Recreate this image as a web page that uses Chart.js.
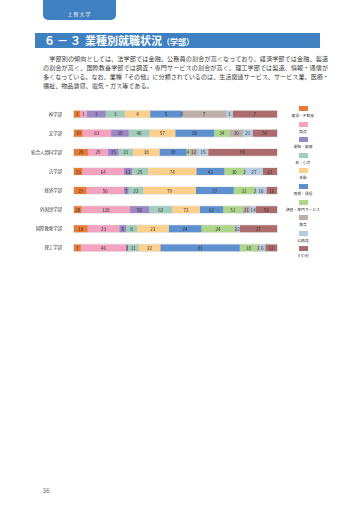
<!DOCTYPE html>
<html>
<head>
<meta charset="utf-8">
<script src="https://cdn.jsdelivr.net/npm/chart.js@4"></script>
<style>
    body { margin: 0; width: 360px; height: 509px; background: #fff; position: relative; overflow: hidden;
           font-family: "Noto Sans CJK JP", sans-serif; }
    #tab { position: absolute; left: 43px; top: -6px; width: 73px; height: 26px; background: #3f80c0;
           border-radius: 5px; color: #fff; font-size: 5px; text-align: center; line-height: 5px; }
    #tab span { position: absolute; left: 0; right: 0; top: 17px; letter-spacing: 1px; }
    #title { position: absolute; left: 35px; top: 33px; width: 285px; height: 15px; background: #3f80c0;
             color: #fff; font-weight: bold; font-size: 11px; line-height: 15px; white-space: nowrap; }
    #title .num { position: absolute; left: 9px; letter-spacing: 2px; }
    #title .main { position: absolute; left: 50px; }
    #title .sub { font-size: 8px; }
    #para { position: absolute; left: 43px; top: 54px; width: 285px; font-size: 6.1px; line-height: 9px; color: #3a3a3a; }
    #para div { text-align: justify; text-align-last: justify; white-space: nowrap; }
    #para div.last { text-align-last: left; }
    #chartBox { position: absolute; left: 0; top: 98px; }
    #legend { position: absolute; left: 282px; top: 106px; width: 42px; }
    .item { height: 15.6px; text-align: center; }
    .sw { width: 9px; height: 5px; margin: 0 auto; }
    .lb { font-size: 3.8px; line-height: 5px; color: #444; margin-top: 2px; white-space: nowrap; }
    #page { position: absolute; left: 43px; top: 486px; font-size: 6px; color: #666; }
</style>
</head>
<body>
<div id="tab"><span>上智大学</span></div>
<div id="title"><span class="num">６－３</span><span class="main">業種別就職状況<span class="sub">（学部）</span></span></div>
<div id="para">
    <div>　学部別の傾向としては、法学部では金融、公務員の割合が高くなっており、経済学部では金融、製造</div>
    <div>の割合が高く、国際教養学部では調査・専門サービスの割合が高く、理工学部では製造、情報・通信が</div>
    <div>多くなっている。なお、業種「その他」に分類されているのは、生活関連サービス、サービス業、医療・</div>
    <div class="last">福祉、物品賃貸、電気・ガス等である。</div>
</div>
<div id="chartBox"><canvas id="myChart" width="290" height="166"></canvas></div>
<div id="legend"></div>
<div id="page">56</div>

<script>
// ---- data ----
var faculties = ['神学部', '文学部', '総合人間科学部', '法学部', '経済学部', '外国語学部', '国際教養学部', '理工学部'];
var industries = ['建設・不動産', '製造', '運輸・郵便', '卸・小売', '金融', '情報・通信', '調査・専門サービス', '教育', '公務員', 'その他'];
var colors = ['#e97c35', '#f3a3bf', '#9a87c5', '#a2cdbd', '#fdd08b', '#5e8fcf', '#afd58b', '#bcaea9', '#b3cde0', '#ad6c6c'];

// one array per industry, in faculty order
var kensetsu = [1, 19, 20, 13, 19, 20, 10, 7];
var seizo    = [1, 63, 29, 64, 56, 128, 23, 46];
var unyu     = [3, 39, 15, 12, 7, 50, 5, 2];
var oroshi   = [3, 46, 21, 25, 22, 62, 8, 11];
var kinyu    = [4, 57, 38, 74, 79, 72, 23, 22];
var joho     = [5, 86, 39, 43, 57, 62, 24, 81];
var chosa    = [0, 34, 4, 30, 31, 51, 24, 18];
var kyoiku   = [7, 30, 12, 2, 2, 21, 2, 2];
var komuin   = [1, 21, 15, 27, 16, 14, 2, 6];
var sonota   = [7, 54, 99, 22, 16, 56, 27, 12];

var counts = [kensetsu, seizo, unyu, oroshi, kinyu, joho, chosa, kyoiku, komuin, sonota];

// ---- build ----
var totals = faculties.map(function (f, i) {
    var s = 0;
    for (let k = 0; k < counts.length; k++) s += counts[k][i];
    return s;
});

var datasets = [];
for (let k = 0; k < counts.length; k++) {
    datasets.push({
        label: industries[k],
        data: counts[k].map(function (v, i) { return v / totals[i] * 100; }),
        raw: counts[k],
        backgroundColor: colors[k],
        borderWidth: 0,
        barPercentage: 0.9,
        categoryPercentage: 0.4
    });
}

// numbers written in the middle of each segment
var valueLabels = {
    id: 'valueLabels',
    afterDatasetsDraw: function (chart) {
        var ctx = chart.ctx;
        ctx.save();
        ctx.font = '4.6px "Noto Sans CJK JP", sans-serif';
        ctx.fillStyle = '#333';
        ctx.textAlign = 'center';
        ctx.textBaseline = 'middle';
        chart.data.datasets.forEach(function (ds, k) {
            chart.getDatasetMeta(k).data.forEach(function (bar, i) {
                ctx.fillText(String(ds.raw[i]), (bar.x + bar.base) / 2, bar.y + 0.3);
            });
        });
        ctx.restore();
    }
};

// light track behind every bar
var track = {
    id: 'track',
    beforeDatasetsDraw: function (chart) {
        var ctx = chart.ctx;
        var xs = chart.scales.x;
        ctx.save();
        ctx.fillStyle = '#e4e4e4';
        chart.getDatasetMeta(0).data.forEach(function (bar) {
            ctx.fillRect(xs.getPixelForValue(0) - 1, bar.y - bar.height / 2 - 0.7, xs.getPixelForValue(100) - xs.getPixelForValue(0) + 2, bar.height + 1.4);
        });
        ctx.restore();
    }
};

Chart.defaults.font.family = '"Noto Sans CJK JP", sans-serif';

var chart = new Chart(document.getElementById('myChart'), {
    type: 'bar',
    data: { labels: faculties, datasets: datasets },
    options: {
        indexAxis: 'y',
        responsive: false,
        animation: false,
        devicePixelRatio: 1,
        layout: { padding: { left: 0, right: 13, top: 0, bottom: 0 } },
        plugins: { legend: { display: false }, tooltip: { enabled: false } },
        scales: {
            x: { stacked: true, min: 0, max: 100, display: false },
            y: {
                stacked: true,
                grid: { display: false },
                border: { display: false },
                ticks: { font: { size: 4.4 }, color: '#444', padding: 4 },
                afterFit: function (scale) { scale.width = 74; }
            }
        }
    },
    plugins: [track, valueLabels]
});

// legend, swatch above label
var legend = document.getElementById('legend');
for (let k = 0; k < industries.length; k++) {
    let item = document.createElement('div');
    item.className = 'item';
    item.innerHTML = '<div class="sw" style="background:' + colors[k] + '"></div><div class="lb">' + industries[k] + '</div>';
    legend.appendChild(item);
}
</script>
</body>
</html>
